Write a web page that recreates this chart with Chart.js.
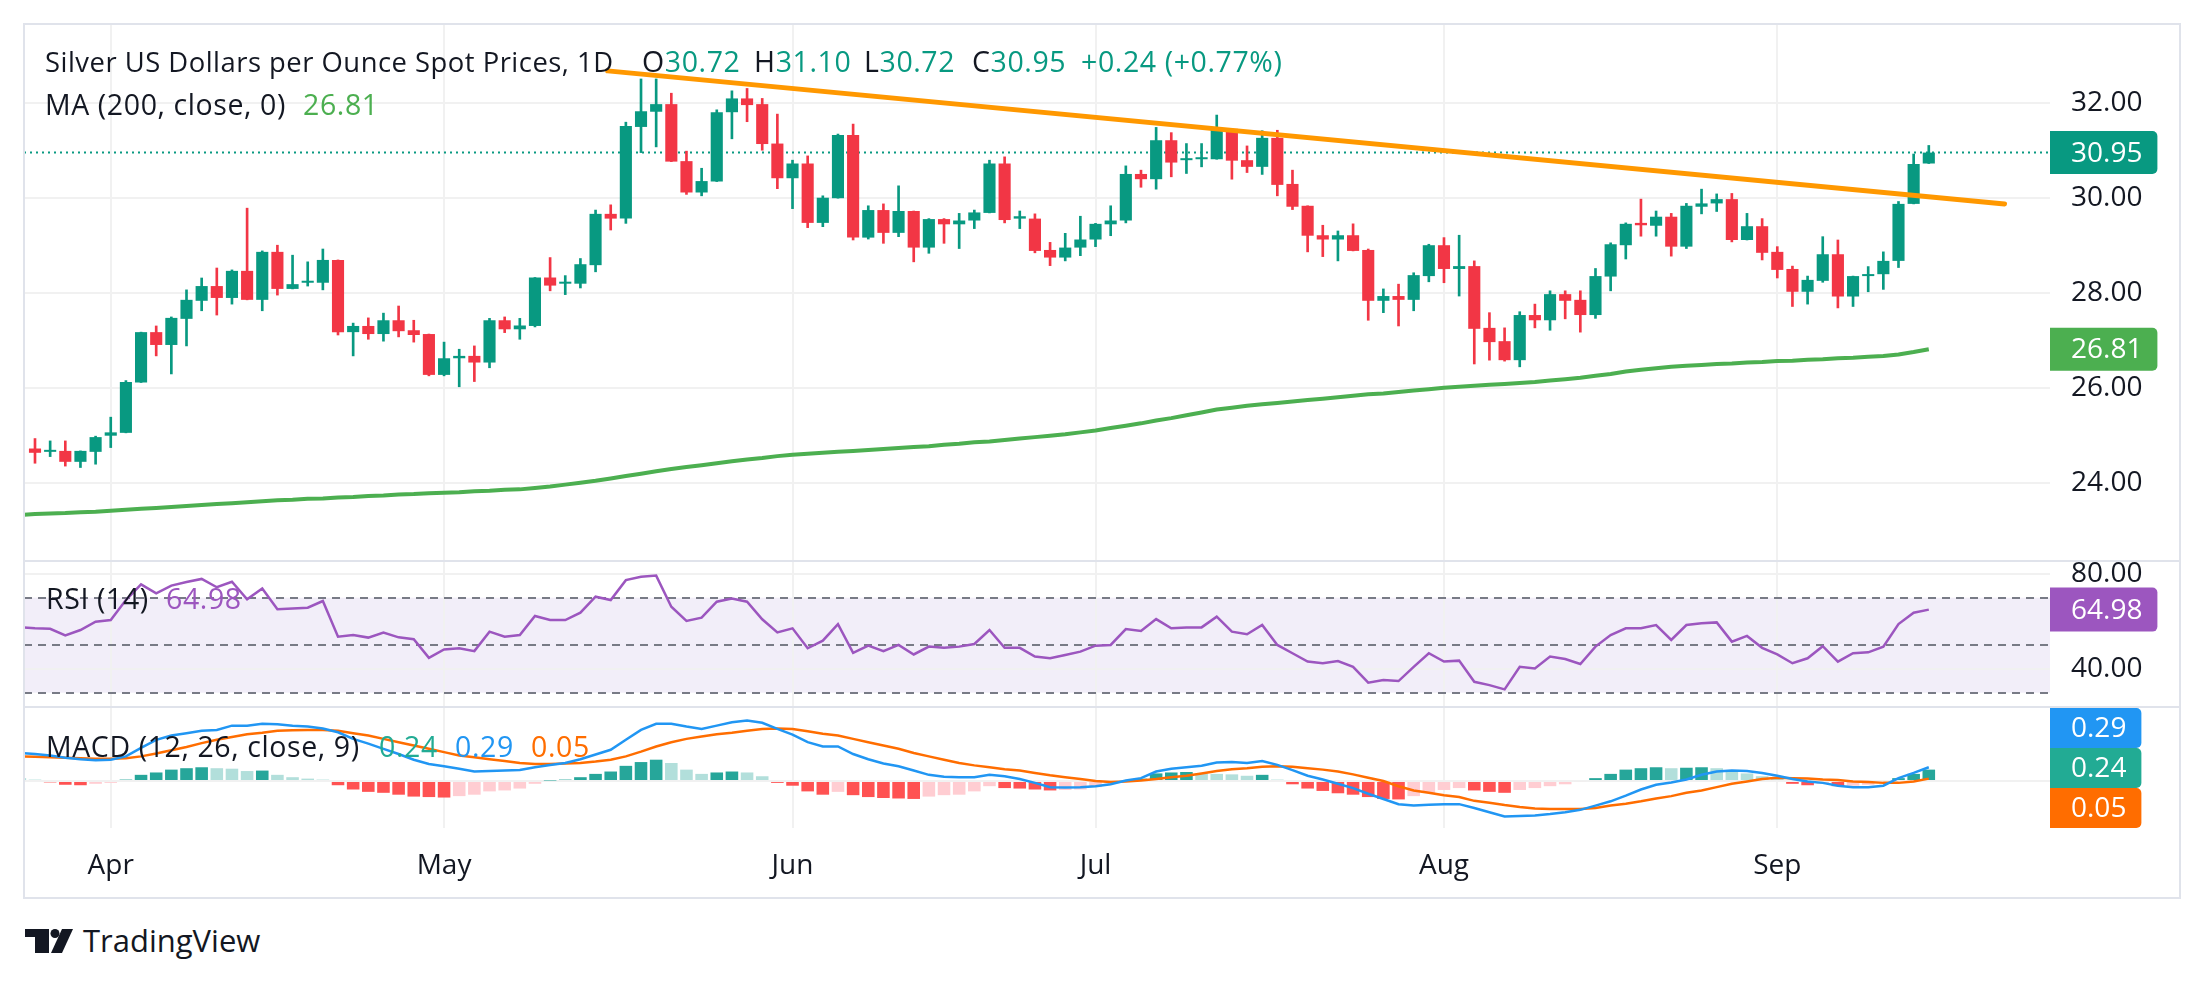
<!DOCTYPE html>
<html>
<head>
<meta charset="utf-8">
<script src="https://cdn.jsdelivr.net/npm/chart.js@4.4.1/dist/chart.umd.min.js"></script>
<style>
  html,body{margin:0;padding:0;background:#fff;}
  body{width:2205px;height:987px;overflow:hidden;position:relative;font-family:'Open Sans','Noto Sans',sans-serif;}
  .pane{position:absolute;left:24px;width:2156px;}
  .pane canvas{display:block;}
  .ln{position:absolute;background:#E0E3EB;z-index:10;}
  .lg{position:absolute;font-size:28.5px;line-height:28.5px;white-space:nowrap;color:#131722;letter-spacing:0.6px;z-index:5;}
  .up{color:#089981;}
</style>
</head>
<body>
<div class="pane" style="top:24px;height:537px"><canvas id="cPrice" width="2156" height="537"></canvas></div>
<div class="pane" style="top:561px;height:146px"><canvas id="cRsi" width="2156" height="146"></canvas></div>
<div class="pane" style="top:707px;height:191px"><canvas id="cMacd" width="2156" height="191"></canvas></div>

<!-- frame and pane separators -->
<div class="ln" style="left:23px;top:23px;width:2158px;height:2px"></div>
<div class="ln" style="left:23px;top:897px;width:2158px;height:2px"></div>
<div class="ln" style="left:23px;top:23px;width:2px;height:876px"></div>
<div class="ln" style="left:2179px;top:23px;width:2px;height:876px"></div>
<div class="ln" style="left:23px;top:560px;width:2158px;height:2px"></div>
<div class="ln" style="left:23px;top:706px;width:2158px;height:2px"></div>

<!-- legends -->
<div class="lg" style="left:45px;top:48px;font-size:27.4px;line-height:27.4px;letter-spacing:0.5px">Silver US Dollars per Ounce Spot Prices, 1D</div>
<div class="lg" style="left:642px;top:47px">O<span class="up">30.72</span></div>
<div class="lg" style="left:754px;top:47px">H<span class="up">31.10</span></div>
<div class="lg" style="left:864px;top:47px">L<span class="up">30.72</span></div>
<div class="lg" style="left:972px;top:47px">C<span class="up">30.95</span></div>
<div class="lg up" style="left:1081px;top:47px">+0.24 (+0.77%)</div>
<div class="lg" style="left:45px;top:90px">MA (200, close, 0)</div>
<div class="lg" style="left:303px;top:90px;color:#4CAF50">26.81</div>
<div class="lg" style="left:46px;top:584px">RSI (14)</div>
<div class="lg" style="left:166px;top:584px;color:#9C56BF">64.98</div>
<div class="lg" style="left:46px;top:732px">MACD (12, 26, close, 9)</div>
<div class="lg" style="left:379px;top:732px;color:#22AB94">0.24</div>
<div class="lg" style="left:455px;top:732px;color:#2196F3">0.29</div>
<div class="lg" style="left:531px;top:732px;color:#FF6D00">0.05</div>

<!-- logo -->
<svg style="position:absolute;left:25px;top:929px" width="48" height="24" viewBox="0 0 48 24">
  <path d="M0 0H24V24H10V8H0Z" fill="#131722"/>
  <circle cx="30" cy="4.5" r="4.5" fill="#131722"/>
  <path d="M37 0H48L37 24H26Z" fill="#131722"/>
</svg>
<div style="position:absolute;left:83px;top:925px;font-size:31px;line-height:31px;color:#131722;white-space:nowrap">TradingView</div>

<script>
// ---------------- data ----------------
const monthLabels = ['Apr','May','Jun','Jul','Aug','Sep'];
const monthIdx = [5, 27, 50, 70, 93, 115];
const priceTicks = [24, 26, 28, 30, 32];
const rsiTicks = [40, 80];
const rsiLevels = [70, 50, 30];
const macdTicks = [0];

const opens = [24.72,24.65,24.67,24.44,24.65,24.99,25.05,26.11,27.17,26.90,
27.45,27.83,28.14,27.89,28.46,27.85,28.86,28.08,28.21,28.21,
28.69,27.17,27.30,27.13,27.42,27.21,27.13,26.27,26.62,26.67,
26.53,27.42,27.23,27.30,28.32,28.19,28.19,28.58,29.66,29.56,
31.49,31.81,31.97,30.77,30.11,30.34,31.80,32.09,31.97,31.14,
30.41,30.72,29.47,29.99,31.32,29.16,29.74,29.26,29.72,28.95,
29.55,29.44,29.52,29.68,30.72,29.56,29.56,28.90,28.74,28.95,
29.12,29.44,29.52,30.50,30.39,31.21,30.79,30.81,30.81,31.45,
30.79,30.65,31.26,30.29,29.83,29.21,29.12,29.21,28.90,27.83,
27.93,27.85,28.35,29.00,28.50,28.56,27.26,26.98,26.58,27.53,
27.42,27.97,27.85,27.53,28.34,29.00,29.47,29.41,29.60,28.97,
29.81,29.88,29.97,29.11,29.40,28.86,28.50,28.02,28.25,28.81,
27.92,28.35,28.39,28.67,29.87,30.72];
const highs = [24.93,24.88,24.88,24.67,24.98,25.38,26.15,27.17,27.30,27.49,
28.06,28.31,28.52,28.48,29.78,28.88,29.00,28.79,28.65,28.92,
28.69,27.36,27.47,27.57,27.72,27.42,27.13,26.96,26.81,26.88,
27.46,27.49,27.46,28.32,28.74,28.36,28.72,29.74,29.85,31.59,
32.50,32.50,32.20,30.98,30.62,31.85,32.25,32.30,32.09,31.76,
30.79,30.88,30.04,31.34,31.55,29.83,29.87,30.25,29.72,29.56,
29.56,29.67,29.74,30.79,30.86,29.72,29.66,29.06,29.25,29.61,
29.46,29.83,30.67,30.58,31.48,31.37,31.14,31.14,31.74,31.45,
31.09,31.41,31.42,30.58,29.83,29.42,29.30,29.45,28.92,28.08,
28.18,28.42,29.02,29.16,29.21,28.67,27.58,27.26,27.60,27.76,
28.04,28.04,28.04,28.51,29.05,29.47,29.97,29.72,29.67,29.88,
30.18,30.08,30.09,29.67,29.56,28.97,28.56,28.35,29.18,29.11,
28.35,28.55,28.86,29.92,30.92,31.10];
const lows = [24.41,24.55,24.35,24.32,24.39,24.74,25.05,26.11,26.67,26.29,
26.88,27.62,27.53,27.76,27.85,27.62,27.95,28.08,28.14,28.06,
27.11,26.67,27.02,26.98,27.07,26.96,26.25,26.25,26.02,26.13,
26.42,27.16,27.02,27.28,28.04,27.96,28.10,28.44,29.32,29.46,
30.95,31.07,30.76,30.07,30.04,30.34,31.24,31.60,31.00,30.19,
29.77,29.37,29.39,29.99,29.11,29.13,29.04,29.18,28.65,28.83,
29.04,28.93,29.35,29.68,29.47,29.35,28.84,28.57,28.67,28.78,
28.97,29.20,29.47,30.22,30.18,30.44,30.51,30.65,30.81,30.39,
30.53,30.49,30.04,29.75,28.86,28.76,28.67,28.88,27.42,27.58,
27.30,27.62,28.23,28.21,27.93,26.50,26.58,26.56,26.44,27.26,
27.21,27.45,27.17,27.46,28.04,28.71,29.19,29.19,28.77,28.93,
29.66,29.71,29.07,29.11,28.69,28.31,27.71,27.76,28.22,27.68,
27.71,28.02,28.07,28.53,29.87,30.72];
const closes = [24.63,24.69,24.44,24.67,24.96,25.06,26.12,27.17,26.90,27.47,
27.85,28.14,27.89,28.46,27.85,28.86,28.08,28.18,28.25,28.69,
27.17,27.30,27.13,27.42,27.19,27.11,26.27,26.62,26.67,26.53,
27.42,27.23,27.31,28.32,28.15,28.22,28.60,29.66,29.56,31.51,
31.82,31.97,30.76,30.11,30.35,31.80,32.09,31.95,31.13,30.41,
30.72,29.47,30.00,31.32,29.16,29.74,29.26,29.72,28.95,29.55,
29.44,29.52,29.69,30.72,29.53,29.61,28.88,28.74,28.95,29.12,
29.45,29.52,30.50,30.39,31.21,30.74,30.83,30.85,31.45,30.78,
30.65,31.26,30.27,29.81,29.20,29.12,29.21,28.88,27.83,27.93,
27.85,28.37,29.00,28.50,28.56,27.24,26.96,26.58,27.53,27.42,
27.97,27.83,27.53,28.35,29.02,29.45,29.42,29.60,28.97,29.83,
29.88,29.97,29.11,29.40,28.84,28.48,28.02,28.27,28.81,27.92,
28.35,28.39,28.67,29.87,30.71,30.95];

// indicator series start one bar before the first visible candle
const IND_START = -1;
const ma200 = [23.32,
23.34,23.35,23.36,23.38,23.39,23.41,23.43,23.45,23.47,23.49,
23.51,23.53,23.55,23.57,23.59,23.61,23.63,23.64,23.66,23.67,
23.69,23.70,23.72,23.73,23.75,23.76,23.78,23.79,23.80,23.82,
23.83,23.85,23.86,23.89,23.92,23.96,24.00,24.04,24.09,24.14,
24.19,24.24,24.29,24.33,24.37,24.41,24.45,24.49,24.52,24.56,
24.59,24.61,24.63,24.65,24.67,24.69,24.71,24.73,24.75,24.77,
24.80,24.82,24.85,24.87,24.90,24.93,24.96,24.99,25.02,25.06,
25.10,25.15,25.20,25.25,25.31,25.36,25.42,25.48,25.54,25.58,
25.62,25.65,25.68,25.71,25.74,25.77,25.80,25.83,25.86,25.88,
25.91,25.94,25.97,26.00,26.02,26.04,26.06,26.08,26.10,26.12,
26.15,26.18,26.21,26.25,26.29,26.34,26.38,26.41,26.44,26.46,
26.48,26.50,26.51,26.53,26.54,26.56,26.57,26.59,26.60,26.62,
26.63,26.65,26.67,26.70,26.75,26.81];
const rsi14 = [57.6,
57.1,56.9,54.1,56.4,59.9,60.6,69.0,75.6,71.8,75.1,
76.6,77.9,74.4,76.7,69.3,73.9,65.1,65.5,65.8,68.6,
53.6,54.3,53.2,55.3,53.3,52.5,44.7,48.2,48.7,47.5,
55.7,53.6,54.3,62.3,60.6,60.6,63.7,70.4,69.0,77.4,
78.8,79.3,66.2,60.2,61.6,68.3,69.7,68.3,60.9,55.4,
57.1,48.7,51.9,58.9,46.8,49.8,47.5,50.1,46.1,49.4,
48.9,49.4,50.5,56.4,48.9,48.9,45.2,44.5,45.9,47.3,
49.8,50.1,56.8,56.0,61.0,57.1,57.4,57.5,62.0,55.7,
54.6,58.5,50.1,46.6,43.1,42.4,43.3,40.9,34.2,35.3,
34.9,40.9,46.6,43.1,43.5,34.6,33.2,31.4,40.9,40.2,
45.2,44.2,42.1,49.4,54.3,57.1,57.1,58.5,52.2,58.5,
59.2,59.6,51.5,53.9,48.9,46.1,42.4,44.5,49.6,43.1,
46.6,47.0,49.4,58.9,63.7,64.98];
const macdLine = [0.59,
0.57,0.54,0.49,0.46,0.44,0.45,0.52,0.70,0.87,0.96,
1.01,1.06,1.08,1.17,1.17,1.21,1.20,1.17,1.15,1.11,
1.03,0.89,0.79,0.68,0.57,0.45,0.36,0.31,0.26,0.20,
0.21,0.22,0.23,0.29,0.34,0.38,0.46,0.56,0.66,0.87,
1.08,1.21,1.21,1.15,1.10,1.17,1.24,1.28,1.23,1.10,
0.98,0.82,0.73,0.73,0.57,0.46,0.37,0.31,0.22,0.13,
0.09,0.08,0.08,0.13,0.10,0.04,-0.04,-0.13,-0.14,-0.13,
-0.11,-0.07,0.01,0.06,0.20,0.26,0.29,0.32,0.39,0.40,
0.38,0.42,0.34,0.23,0.11,0.03,-0.06,-0.15,-0.27,-0.38,
-0.49,-0.52,-0.50,-0.49,-0.49,-0.57,-0.66,-0.75,-0.74,-0.73,
-0.70,-0.66,-0.61,-0.52,-0.43,-0.31,-0.18,-0.08,-0.03,0.03,
0.13,0.20,0.22,0.21,0.17,0.11,0.04,-0.01,-0.04,-0.10,
-0.13,-0.13,-0.10,0.06,0.17,0.29];
const signalLine = [0.52,
0.51,0.50,0.49,0.48,0.47,0.47,0.48,0.52,0.58,0.65,
0.72,0.80,0.87,0.93,0.99,1.02,1.06,1.07,1.08,1.08,
1.06,1.01,0.96,0.89,0.82,0.75,0.68,0.61,0.54,0.50,
0.46,0.42,0.38,0.36,0.36,0.37,0.38,0.41,0.45,0.52,
0.62,0.73,0.82,0.89,0.94,0.99,1.02,1.06,1.10,1.11,
1.10,1.05,1.00,0.96,0.89,0.82,0.75,0.68,0.59,0.52,
0.45,0.38,0.33,0.29,0.25,0.22,0.17,0.12,0.08,0.04,
0.00,-0.02,-0.01,0.01,0.04,0.08,0.11,0.16,0.21,0.25,
0.27,0.30,0.31,0.30,0.27,0.24,0.20,0.14,0.07,0.00,
-0.11,-0.20,-0.25,-0.30,-0.34,-0.42,-0.46,-0.51,-0.55,-0.58,
-0.59,-0.59,-0.59,-0.57,-0.52,-0.48,-0.43,-0.37,-0.32,-0.25,
-0.20,-0.13,-0.06,-0.01,0.04,0.07,0.06,0.05,0.03,0.02,
-0.01,-0.02,-0.04,-0.04,-0.01,0.05];
const macdHist = [0.06,
0.03,-0.03,-0.08,-0.09,-0.06,-0.04,0.03,0.13,0.18,0.24,
0.27,0.29,0.27,0.26,0.21,0.22,0.13,0.08,0.05,0.03,
-0.09,-0.18,-0.23,-0.25,-0.29,-0.33,-0.34,-0.35,-0.32,-0.29,
-0.22,-0.20,-0.16,-0.06,0.01,0.03,0.08,0.15,0.20,0.32,
0.40,0.45,0.38,0.24,0.15,0.18,0.20,0.18,0.10,-0.04,
-0.10,-0.22,-0.29,-0.23,-0.30,-0.34,-0.36,-0.37,-0.38,-0.33,
-0.30,-0.29,-0.22,-0.11,-0.15,-0.16,-0.18,-0.20,-0.19,-0.18,
-0.13,-0.05,0.02,0.05,0.16,0.18,0.19,0.16,0.15,0.14,
0.11,0.13,0.03,-0.07,-0.16,-0.21,-0.26,-0.29,-0.34,-0.38,
-0.39,-0.32,-0.25,-0.19,-0.15,-0.20,-0.23,-0.25,-0.19,-0.15,
-0.11,-0.07,-0.02,0.06,0.15,0.24,0.27,0.29,0.27,0.28,
0.29,0.27,0.22,0.16,0.10,0.05,-0.06,-0.09,-0.06,-0.11,
-0.10,-0.08,-0.04,0.06,0.15,0.24];
// resistance trendline drawn on the chart (bar index, price)
const trendX = [37.8, 130.0];
const trendY = [32.67, 29.87];

// ---------------- styling / helpers ----------------
const UP = '#089981', DOWN = '#F23645', GRID = '#F1F1F1';
const MA_COLOR = '#4CAF50', RSI_COLOR = '#9C56BF';
const X_MIN = -0.726, X_MAX = 133.0;
const FONT = "'Open Sans','Noto Sans',sans-serif";
const AXIS_SIZE = 28;
Chart.defaults.font.family = FONT;
Chart.defaults.color = '#131722';

const candleColors = closes.map((c, i) => c >= opens[i] ? UP : DOWN);
const histColors = macdHist.map((v, k) => {
  const p = k > 0 ? macdHist[k - 1] : v;
  if (v >= 0) return v > p ? '#26A69A' : '#B2DFDB';
  return v < p ? '#FF5252' : '#FFCDD2';
});
const seriesPts = arr => arr.map((v, k) => ({x: k + IND_START, y: v}));

function xAxis(showLabels) {
  return {
    type: 'linear', min: X_MIN, max: X_MAX, offset: false,
    grid: {color: GRID, lineWidth: 2, drawTicks: false, offset: false},
    border: {display: false},
    ticks: showLabels
      ? {autoSkip: false, maxRotation: 0, padding: 21, font: {size: AXIS_SIZE}, color: '#131722',
         callback: (v, i) => monthLabels[i]}
      : {display: false},
    afterBuildTicks: s => { s.ticks = monthIdx.map(v => ({value: v})); },
    afterFit: s => { s.height = showLabels ? 70 : 0; s.paddingLeft = 0; s.paddingRight = 0; }
  };
}
function yAxis(min, max, ticks, showLabels) {
  return {
    type: 'linear', position: 'right', min, max, beginAtZero: false,
    grid: {color: GRID, lineWidth: 2, drawTicks: false},
    border: {display: false},
    ticks: {display: showLabels, padding: 21, font: {size: AXIS_SIZE}, color: '#131722',
            callback: v => Number(v).toFixed(2)},
    afterBuildTicks: s => { s.ticks = ticks.map(v => ({value: v})); },
    afterFit: s => { s.width = 130; s.paddingTop = 0; s.paddingBottom = 0; }
  };
}
const baseOptions = (x, y) => ({
  responsive: false, animation: false, events: [],
  layout: {padding: 0},
  plugins: {legend: {display: false}, tooltip: {enabled: false}},
  scales: {x, y}
});

function drawBox(chart, cy, text, color, h) {
  const ctx = chart.ctx, a = chart.chartArea;
  ctx.save();
  ctx.font = AXIS_SIZE + 'px ' + FONT;
  const tw = ctx.measureText(text).width;
  const x0 = a.right, w = 21 + tw + 15, y0 = cy - h / 2, r = 5;
  ctx.fillStyle = color;
  ctx.beginPath();
  if (ctx.roundRect) ctx.roundRect(x0, y0, w, h, [0, r, r, 0]); else ctx.rect(x0, y0, w, h);
  ctx.fill();
  ctx.fillStyle = '#ffffff';
  ctx.textBaseline = 'middle';
  ctx.textAlign = 'left';
  ctx.fillText(text, x0 + 21, cy + 1);
  ctx.restore();
}

// ---------------- price pane ----------------
const lastI = closes.length - 1;
const pricePlugin = {
  id: 'pricePlugin',
  beforeDatasetsDraw(chart) {
    const {ctx, chartArea: a, scales: {y}} = chart;
    const py = y.getPixelForValue(closes[lastI]);
    ctx.save();
    ctx.strokeStyle = UP; ctx.lineWidth = 2; ctx.setLineDash([2, 4]);
    ctx.beginPath(); ctx.moveTo(a.left, py); ctx.lineTo(a.right, py); ctx.stroke();
    ctx.restore();
  },
  afterDraw(chart) {
    const y = chart.scales.y;
    drawBox(chart, y.getPixelForValue(closes[lastI]), closes[lastI].toFixed(2), UP, 43);
    const maLast = ma200[ma200.length - 1];
    drawBox(chart, y.getPixelForValue(maLast), maLast.toFixed(2), MA_COLOR, 43);
  }
};
new Chart(document.getElementById('cPrice'), {
  type: 'bar',
  data: {datasets: [
    {type: 'line', label: 'Trendline', data: trendX.map((x, k) => ({x, y: trendY[k]})),
     borderColor: '#FF9800', borderWidth: 5, borderCapStyle: 'round', pointRadius: 0, order: 0},
    {type: 'line', label: 'MA (200)', data: seriesPts(ma200),
     borderColor: MA_COLOR, borderWidth: 4, borderJoinStyle: 'round', pointRadius: 0, tension: 0, order: 1},
    {label: 'Body', data: opens.map((o, i) => ({x: i, y: [o, closes[i]]})),
     backgroundColor: candleColors, borderWidth: 0, grouped: false,
     barPercentage: 0.8, categoryPercentage: 1, minBarLength: 2, order: 2},
    {label: 'Wick', data: lows.map((l, i) => ({x: i, y: [l, highs[i]]})),
     backgroundColor: candleColors, borderWidth: 0, grouped: false, barThickness: 2, order: 3}
  ]},
  options: baseOptions(xAxis(false), yAxis(22.352, 33.657, priceTicks, true)),
  plugins: [pricePlugin]
});

// ---------------- RSI pane ----------------
const rsiPlugin = {
  id: 'rsiPlugin',
  beforeDraw(chart) {
    const {ctx, chartArea: a, scales: {y}} = chart;
    const t = y.getPixelForValue(Math.max(...rsiLevels)), b = y.getPixelForValue(Math.min(...rsiLevels));
    ctx.save(); ctx.fillStyle = 'rgba(126,87,194,0.1)';
    ctx.fillRect(a.left, t, a.right - a.left, b - t); ctx.restore();
  },
  beforeDatasetsDraw(chart) {
    const {ctx, chartArea: a, scales: {y}} = chart;
    ctx.save(); ctx.strokeStyle = '#787B86'; ctx.lineWidth = 2; ctx.setLineDash([8, 6]);
    rsiLevels.forEach(v => {
      const py = Math.round(y.getPixelForValue(v));
      ctx.beginPath(); ctx.moveTo(a.left, py); ctx.lineTo(a.right, py); ctx.stroke();
    });
    ctx.restore();
  },
  afterDraw(chart) {
    const v = rsi14[rsi14.length - 1];
    drawBox(chart, chart.scales.y.getPixelForValue(v), v.toFixed(2), RSI_COLOR, 44);
  }
};
new Chart(document.getElementById('cRsi'), {
  type: 'line',
  data: {datasets: [
    {label: 'RSI', data: seriesPts(rsi14), borderColor: RSI_COLOR, borderWidth: 2.5,
     pointRadius: 0, tension: 0}
  ]},
  options: baseOptions(xAxis(false), yAxis(23.98, 85.45, rsiTicks, true)),
  plugins: [rsiPlugin]
});

// ---------------- MACD pane ----------------
const macdPlugin = {
  id: 'macdPlugin',
  afterDraw(chart) {
    const y = chart.scales.y, a = chart.chartArea, h = 40, n = macdLine.length - 1;
    const items = [
      {v: macdLine[n], c: '#2196F3'},
      {v: macdHist[n], c: '#22AB94'},
      {v: signalLine[n], c: '#FF6D00'}
    ].map(o => ({...o, cy: y.getPixelForValue(o.v)})).sort((p, q) => p.cy - q.cy);
    for (let k = 1; k < items.length; k++)
      if (items[k].cy < items[k - 1].cy + h) items[k].cy = items[k - 1].cy + h;
    const over = items[items.length - 1].cy + h / 2 - a.bottom;
    if (over > 0) items.forEach(o => { o.cy -= over; });
    items.forEach(o => drawBox(chart, o.cy, o.v.toFixed(2), o.c, h));
  }
};
new Chart(document.getElementById('cMacd'), {
  type: 'bar',
  data: {datasets: [
    {type: 'line', label: 'MACD', data: seriesPts(macdLine), borderColor: '#2196F3',
     borderWidth: 2.5, pointRadius: 0, tension: 0, order: 0},
    {type: 'line', label: 'Signal', data: seriesPts(signalLine), borderColor: '#FF6D00',
     borderWidth: 2.5, pointRadius: 0, tension: 0, order: 1},
    {label: 'Histogram', data: seriesPts(macdHist), backgroundColor: histColors, borderWidth: 0,
     grouped: false, barPercentage: 0.83, categoryPercentage: 1, order: 2}
  ]},
  options: baseOptions(xAxis(true), yAxis(-0.994, 1.564, macdTicks, false)),
  plugins: [macdPlugin]
});
</script>
</body>
</html>
